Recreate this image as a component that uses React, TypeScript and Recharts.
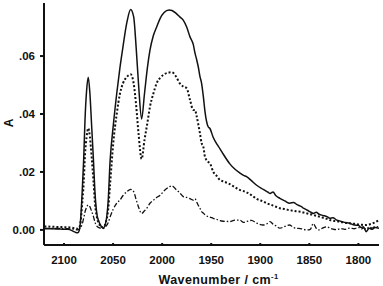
import { Label, Line, LineChart, XAxis, YAxis } from "recharts";

// wavenumber grid (cm-1), shared by all three spectra
const wavenumbers = [
  2120, 2112, 2104, 2096, 2091, 2088, 2086, 2084.5, 2083, 2081.5, 2080, 2078.6, 2077, 2075.3,
  2073.6, 2071.8, 2070, 2068.4, 2066.5, 2065, 2062, 2060, 2057.5, 2055, 2053, 2049.8, 2046.3,
  2043, 2040, 2036, 2032.1, 2029, 2026.5, 2024, 2020.9, 2018, 2015, 2012.4, 2009, 2005.6, 2002,
  1998, 1993, 1990, 1986, 1982, 1978.5, 1975, 1971.7, 1968.3, 1966.5, 1965, 1963.2, 1961.5,
  1959.8, 1958, 1956.4, 1953.1, 1951.3, 1948, 1944, 1941, 1937.8, 1931, 1926, 1921, 1917, 1914,
  1909, 1904, 1897, 1892, 1890, 1887, 1884, 1880, 1875, 1870, 1866, 1863, 1858, 1856, 1852, 1849,
  1846, 1843, 1840, 1836, 1832, 1829, 1826, 1822, 1818, 1814, 1809, 1804, 1800, 1797, 1795, 1792,
  1789, 1786, 1783, 1779,
];

const solid = [
  0.0004, 0.0004, 0.0003, 0.0002, -0.0004, -0.0009, -0.001, -0.0002, 0.004, 0.013, 0.024, 0.038,
  0.048, 0.0527, 0.047, 0.0356, 0.024, 0.0127, 0.0055, 0.0034, 0.0012, 0.0006, 0.0025, 0.01, 0.024,
  0.036, 0.047, 0.056, 0.063, 0.0715, 0.0761, 0.0735, 0.063, 0.05, 0.0383, 0.047, 0.056, 0.062,
  0.067, 0.07, 0.073, 0.075, 0.0759, 0.0757, 0.0748, 0.0735, 0.0724, 0.07, 0.0667, 0.064, 0.061,
  0.059, 0.0563, 0.053, 0.0506, 0.046, 0.041, 0.0356, 0.035, 0.032, 0.0295, 0.028, 0.0262, 0.0228,
  0.021, 0.0197, 0.0188, 0.0184, 0.017, 0.0155, 0.014, 0.013, 0.0126, 0.0131, 0.0118, 0.0109, 0.01,
  0.0092, 0.0095, 0.0088, 0.008, 0.0075, 0.0068, 0.0062, 0.0057, 0.0061, 0.0054, 0.005, 0.0046,
  0.004, 0.0042, 0.0034, 0.003, 0.0026, 0.0023, 0.0017, 0.0016, 0.0008, 0.0011, -0.0006, 0.0006,
  0.0002, 0.0008, 0.0006,
];

const dotted = [
  0.0012, 0.0011, 0.001, 0.0009, 0.0007, 0.0005, 0.0004, 0.0008, 0.003, 0.009, 0.016, 0.026, 0.032,
  0.0351, 0.032, 0.025, 0.017, 0.009, 0.0045, 0.0025, 0.0012, 0.0008, 0.0025, 0.007, 0.016, 0.03,
  0.04, 0.047, 0.0505, 0.0528, 0.0537, 0.0505, 0.043, 0.033, 0.0245, 0.031, 0.037, 0.0425, 0.047,
  0.0506, 0.0525, 0.0537, 0.0543, 0.0544, 0.053, 0.0506, 0.0495, 0.0489, 0.045, 0.0414, 0.0414,
  0.0395, 0.0365, 0.0334, 0.03, 0.0287, 0.0253, 0.0235, 0.023, 0.0201, 0.0185, 0.0172, 0.0168,
  0.0158, 0.0148, 0.0138, 0.0134, 0.013, 0.012, 0.0108, 0.0098, 0.009, 0.0088, 0.0084, 0.008,
  0.0075, 0.0072, 0.0068, 0.0066, 0.0064, 0.0062, 0.006, 0.0057, 0.0054, 0.0052, 0.0049, 0.0046,
  0.0042, 0.0038, 0.0034, 0.0032, 0.003, 0.0028, 0.0025, 0.0023, 0.0021, 0.0019, 0.0018, 0.0017,
  0.0017, 0.0019, 0.0022, 0.0026, 0.0034,
];

const dashDot = [
  0.0006, 0.0005, 0.0005, 0.0004, 0.0003, 0.0001, 0, 0.0003, 0.0008, 0.002, 0.004, 0.0062, 0.0078,
  0.0086, 0.008, 0.0064, 0.0046, 0.0026, 0.0013, 0.0009, 0.0006, 0.0005, 0.0012, 0.0025, 0.0045,
  0.0072, 0.0092, 0.0103, 0.0118, 0.0132, 0.014, 0.0132, 0.0105, 0.0078, 0.0057, 0.0066, 0.0078,
  0.0092, 0.0102, 0.0112, 0.012, 0.0135, 0.0148, 0.0152, 0.014, 0.0128, 0.0115, 0.0112, 0.0108,
  0.0103, 0.0108, 0.0098, 0.0085, 0.0075, 0.0063, 0.0058, 0.0052, 0.0046, 0.0044, 0.004, 0.0036,
  0.0032, 0.003, 0.0029, 0.0034, 0.0034, 0.0026, 0.0029, 0.0033, 0.0024, 0.0017, 0.0024, 0.0029,
  0.002, 0.0014, 0.0006, 0.0012, 0.0017, 0.0008, 0.0006, 0.0004, 0.0002, 0, 0.0002, 0.0022, 0.0006,
  0, 0.0007, 0.0011, 0.0006, 0.0003, 0.0001, 0.0005, 0.0002, 0.0006, 0.0004, 0.0009, 0.0003,
  0.0007, 0.0002, 0.001, 0.0006, 0.0012, 0.001,
];

const xTicks = [2100, 2050, 2000, 1950, 1900, 1850, 1800];
const yTicks = [0, 0.02, 0.04, 0.06];

const data = wavenumbers.map((wn, i) => ({
  wn,
  solid: solid[i],
  dotted: dotted[i],
  dashDot: dashDot[i],
}));

const font = "Arial, 'Liberation Sans', sans-serif";
const tickStyle = { fill: "#111", fontSize: 11.5, fontWeight: "bold", fontFamily: font };

const formatY = (v: number) => (v === 0 ? "0.00" : v.toFixed(2).replace(/^0/, ""));

function XTitle({ viewBox }: any) {
  const cx = viewBox.x + viewBox.width / 2 + 7;
  return (
    <text x={cx} y={284} textAnchor="middle" fontFamily={font} fontWeight="bold" fontSize={12.5} letterSpacing={0.4} fill="#111">
      Wavenumber / cm
      <tspan dy={-5} fontSize={7.5}>-1</tspan>
    </text>
  );
}

function YTitle() {
  return (
    <text x={13} y={123} transform="rotate(-90 13 123)" textAnchor="middle" fontFamily={font} fontWeight="bold" fontSize={12} fill="#111">
      A
    </text>
  );
}

export default function App() {
  return (
    <div style={{ position: "absolute", left: 0, top: 0 }}>
      <LineChart
        width={383}
        height={286}
        data={data}
        margin={{ top: 3, right: 4, left: 0, bottom: 0 }}
      >
        <XAxis
          dataKey="wn"
          type="number"
          reversed
          domain={[1779, 2120.4]}
          ticks={xTicks}
          allowDataOverflow
          height={41}
          tickSize={-2}
          tickMargin={13}
          stroke="#111"
          strokeWidth={2}
          tick={tickStyle}
          label={<XTitle />}
        />
        <YAxis
          type="number"
          domain={[-0.0052, 0.0783]}
          ticks={yTicks}
          allowDataOverflow
          width={44}
          tickSize={4}
          tickMargin={5}
          tickFormatter={formatY}
          stroke="#111"
          strokeWidth={2}
          tick={tickStyle}
        >
          <Label content={<YTitle />} />
        </YAxis>
        <Line
          type="monotone"
          dataKey="solid"
          stroke="#111"
          strokeWidth={1.5}
          dot={false}
          isAnimationActive={false}
        />
        <Line
          type="monotone"
          dataKey="dotted"
          stroke="#111"
          strokeWidth={2}
          strokeDasharray="2 2"
          dot={false}
          isAnimationActive={false}
        />
        <Line
          type="monotone"
          dataKey="dashDot"
          stroke="#111"
          strokeWidth={1.3}
          strokeDasharray="5 2 1.5 2"
          dot={false}
          isAnimationActive={false}
        />
      </LineChart>
    </div>
  );
}
